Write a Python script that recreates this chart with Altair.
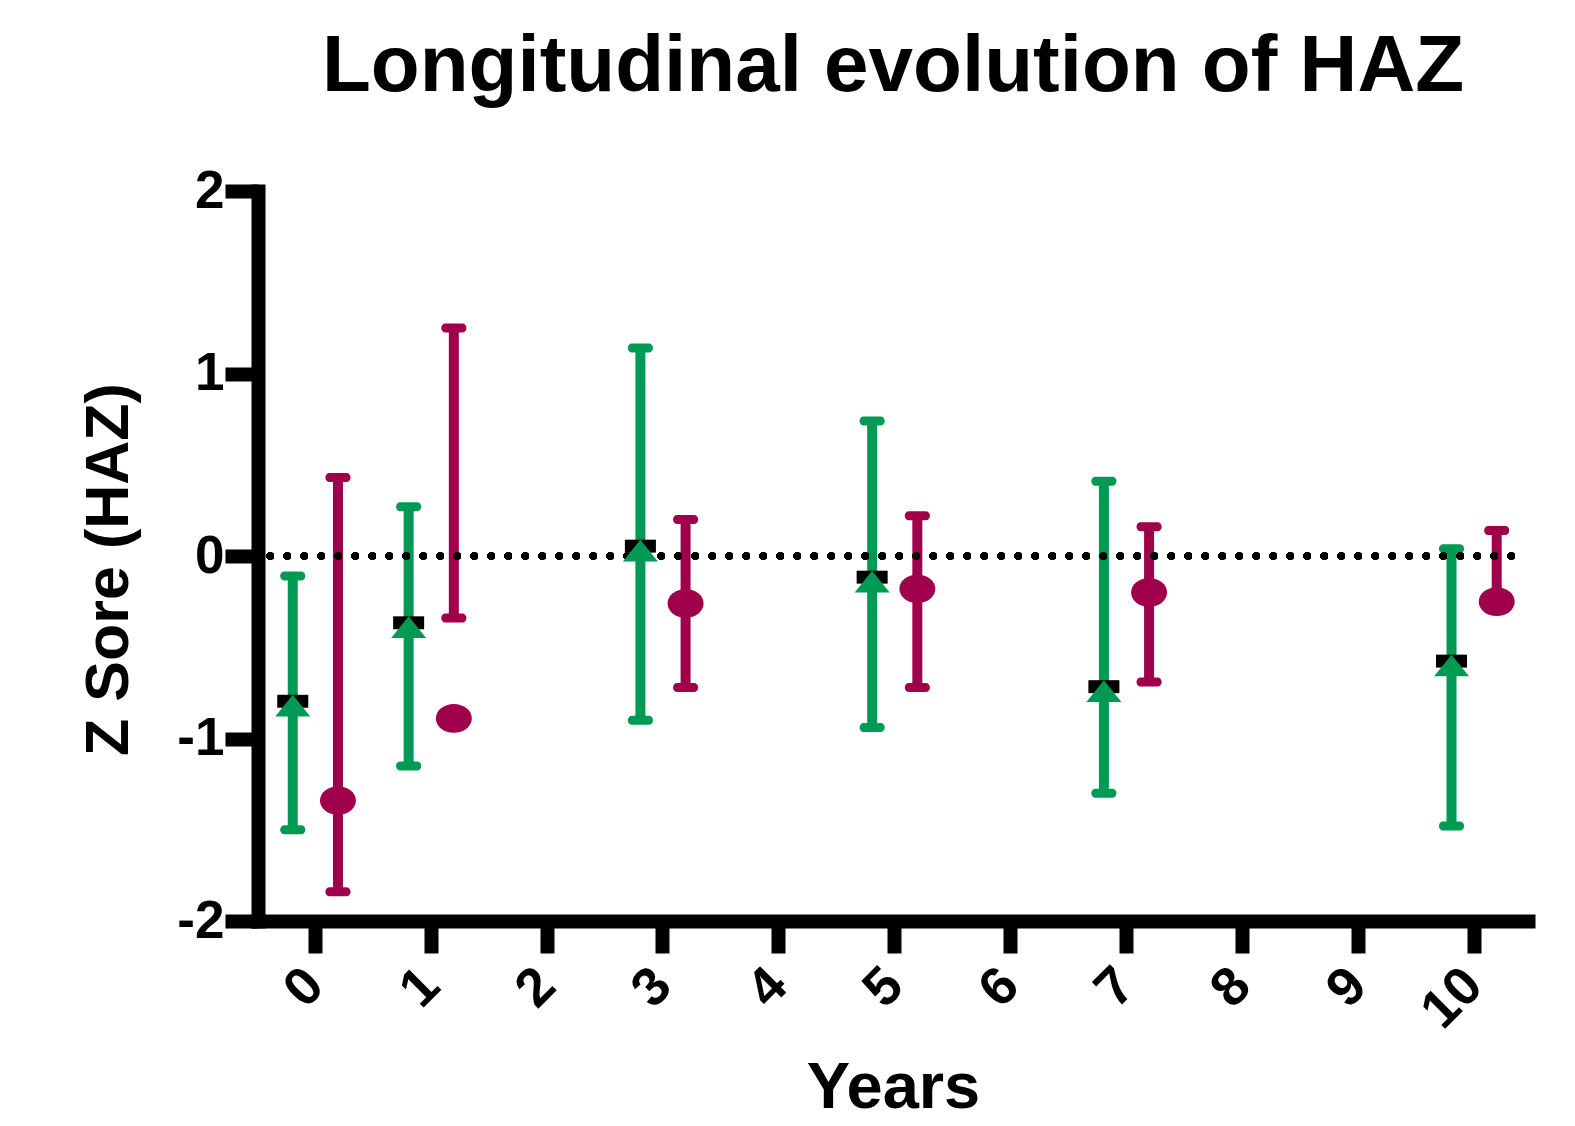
import altair as alt
import pandas as pd

years = [0, 1, 3, 5, 7, 10]
green_mean = [-0.82, -0.39, 0.03, -0.14, -0.74, -0.60]
green_low = [-1.50, -1.15, -0.90, -0.94, -1.30, -1.48]
green_high = [-0.11, 0.27, 1.14, 0.74, 0.41, 0.04]
red_mean = [-1.34, -0.89, -0.26, -0.18, -0.20, -0.25]
red_low = [-1.84, -0.34, -0.72, -0.72, -0.69, -0.25]
red_high = [0.43, 1.25, 0.20, 0.22, 0.16, 0.14]
x_ticks = list(range(0, 11))
y_ticks = [-2, -1, 0, 1, 2]

GREEN = "#009A55"
RED = "#A0004B"
FONT = "Liberation Sans"

rows = []
for i, yr in enumerate(years):
    rows.append(dict(year=yr, group="green", mean=green_mean[i], low=green_low[i], high=green_high[i]))
    rows.append(dict(year=yr, group="red", mean=red_mean[i], low=red_low[i], high=red_high[i]))
df = pd.DataFrame(rows)

W, H = 1270, 730

xscale = alt.Scale(domain=[-0.49, 10.47], nice=False, zero=False)
yscale = alt.Scale(domain=[-2, 2], nice=False, zero=False)
cscale = alt.Scale(domain=["green", "red"], range=[GREEN, RED])

LBL = "datum.value < 0 ? '-' + abs(datum.value) : '' + datum.value"

xax = alt.Axis(values=x_ticks, title="Years", labelAngle=315, labelAlign="right",
               labelBaseline="middle", labelFont=FONT, labelFontSize=54, labelFontWeight="bold",
               labelColor="black", labelPadding=24, tickSize=32, tickWidth=14, tickColor="black",
               domainColor="black", domainWidth=14, domainCap="square", grid=False,
               titleFont=FONT, titleFontSize=65, titleFontWeight="bold", titleColor="black",
               titleBaseline="bottom", titleY=200, titleAlign="center", labelFlush=False,
               labelOverlap=False, labelExpr=LBL)
yax = alt.Axis(values=y_ticks, title="Z Sore (HAZ)", labelFont=FONT, labelFontSize=53,
               labelFontWeight="bold", labelColor="black", labelPadding=1, labelBaseline="middle",
               tickSize=33, tickWidth=14, tickColor="black", domainColor="black", domainWidth=14,
               domainCap="square", grid=False, titleFont=FONT, titleFontSize=61,
               titleFontWeight="bold", titleColor="black", titleBaseline="alphabetic",
               titleX=-131, titleY=378, titleAlign="center", titleAngle=270, labelFlush=False,
               labelOverlap=False, labelExpr=LBL)

base = alt.Chart(df).transform_calculate(
    xpos="datum.year + (datum.group == 'green' ? -0.19 : 0.2)"
)

X = alt.X("xpos:Q", scale=xscale, axis=xax)

def Y(field):
    return alt.Y(field, scale=yscale, axis=yax)

bars = base.mark_rule(strokeWidth=10).encode(
    x=X,
    y=Y("low:Q"),
    y2="high:Q",
    color=alt.Color("group:N", scale=cscale, legend=None),
)

caps = base.transform_fold(["low", "high"], as_=["end", "val"]).mark_tick(
    orient="horizontal", size=25, thickness=9, cornerRadius=4, opacity=1
).encode(
    x=X,
    y=Y("val:Q"),
    color=alt.Color("group:N", scale=cscale, legend=None),
)

zero = alt.Chart(df).mark_rule(color="black", strokeWidth=7, strokeDash=[0.5, 16.5],
                               strokeCap="round").encode(
    y=alt.datum(0, scale=yscale, axis=yax), x=alt.value(12), x2=alt.value(W - 2)
)

RECT = "M-0.886,-0.62L0.886,-0.62L0.886,0.12L-0.886,0.12Z"
TRI = "M0,-0.62L1,0.62L-1,0.62Z"
ELL = "M-1,0A1,0.8,0,1,1,1,0A1,0.8,0,1,1,-1,0Z"

green_pts = base.transform_filter("datum.group == 'green'")
red_pts = base.transform_filter("datum.group == 'red'")

sq = green_pts.mark_point(shape=RECT, filled=True, size=1225, color="black", opacity=1,
                          strokeWidth=0).encode(x=X, y=Y("mean:Q"))
tri = green_pts.mark_point(shape=TRI, filled=True, size=1225, color=GREEN, opacity=1,
                           strokeWidth=0).encode(x=X, y=Y("mean:Q"))
ell = red_pts.mark_point(shape=ELL, filled=True, size=1296, color=RED, opacity=1,
                         strokeWidth=0).encode(x=X, y=Y("mean:Q"))

chart = alt.layer(bars, caps, zero, sq, tri, ell).properties(
    width=W, height=H,
    title=alt.TitleParams("Longitudinal evolution of HAZ", font=FONT, fontSize=80,
                          fontWeight="bold", color="black", anchor="middle", frame="group",
                          baseline="alphabetic", offset=-6),
    autosize="none",
    background="white",
    padding={"left": 250, "top": 183, "right": 30, "bottom": 204},
).configure_view(stroke=None)

chart.save("out.html", embed_options={"renderer": "svg", "actions": False})
